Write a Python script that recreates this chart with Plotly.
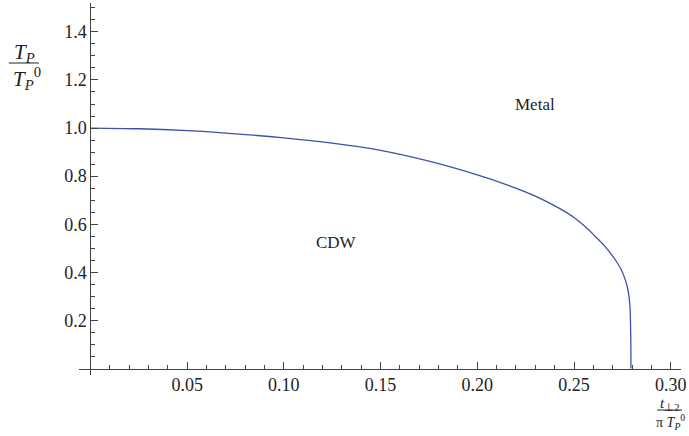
import plotly.graph_objects as go

# Phase boundary between the CDW state and the metal
t_ratio = [0.000, 0.025, 0.050, 0.075, 0.100, 0.125, 0.150, 0.175, 0.200, 0.216,
           0.230, 0.242, 0.250, 0.2574, 0.2610, 0.2655, 0.2694, 0.2720, 0.2745,
           0.2762, 0.2776, 0.2784, 0.2789, 0.2792, 0.2794, 0.2794]
tp_ratio = [1.000, 0.997, 0.989, 0.976, 0.959, 0.937, 0.907, 0.862, 0.805, 0.762,
            0.717, 0.668, 0.628, 0.578, 0.549, 0.512, 0.474, 0.444, 0.410,
            0.376, 0.338, 0.300, 0.262, 0.190, 0.080, 0.000]

x_ticks = [0.05, 0.10, 0.15, 0.20, 0.25, 0.30]
x_tick_text = ["0.05", "0.10", "0.15", "0.20", "0.25", "0.30"]
y_ticks = [0.2, 0.4, 0.6, 0.8, 1.0, 1.2, 1.4]
y_tick_text = ["0.2", "0.4", "0.6", "0.8", "1.0", "1.2", "1.4"]
x_minor = [round(0.01 * i, 2) for i in range(1, 31) if i % 5 != 0]
y_minor = [round(0.05 * i, 2) for i in range(1, 31) if i % 4 != 0]

region_labels = ["CDW", "Metal"]
region_x = [0.127, 0.230]
region_y = [0.525, 1.10]

W, H = 689, 436
L, R, T, B = 79.3, 6, 3, 61
X_RANGE = [-0.0059, 0.3053]
Y_RANGE = [-0.027, 1.52]

def px(x):
    return (x - L) / (W - L - R)

def py(y):
    return (H - B - y) / (H - T - B)

FONT = "Liberation Serif, Times New Roman, serif"
AX = "#444444"
TXT = "#222222"

fig = go.Figure()
fig.add_trace(go.Scatter(
    x=t_ratio, y=tp_ratio, mode="lines",
    line=dict(color="rgb(62,80,168)", width=1.3, shape="spline", smoothing=0.8),
    hoverinfo="skip", showlegend=False,
))

for name, xv, yv in zip(region_labels, region_x, region_y):
    fig.add_annotation(x=xv, y=yv, xref="x", yref="y", text=name, showarrow=False,
                       xanchor="center", yanchor="middle",
                       font=dict(family=FONT, size=17, color=TXT))

def label(x, y, text, size):
    fig.add_annotation(x=px(x), y=py(y), xref="paper", yref="paper", text=text,
                       showarrow=False, xanchor="center", yanchor="middle",
                       borderpad=0, font=dict(family=FONT, size=size, color=TXT))

def bar(x0, x1, y):
    fig.add_shape(type="line", xref="paper", yref="paper",
                  x0=px(x0), x1=px(x1), y0=py(y), y1=py(y),
                  line=dict(color=TXT, width=1))

# Axis titles drawn as stacked fractions
label(25, 53, "<i>T<sub>P</sub></i>", 21)
label(27, 78, "<i>T<sub>P</sub></i><sup>0</sup>", 21)
bar(9, 39, 63)

label(671, 404, "<i>t</i><sub>⊥2</sub>", 15)
label(672, 422, "π <i>T<sub>P</sub></i><sup>0</sup>", 14)
bar(659, 684, 410)

x_pos = (0 - Y_RANGE[0]) / (Y_RANGE[1] - Y_RANGE[0])
y_pos = (0 - X_RANGE[0]) / (X_RANGE[1] - X_RANGE[0])

fig.update_layout(
    width=W, height=H,
    margin=dict(l=L, r=R, t=T, b=B, pad=0),
    paper_bgcolor="white", plot_bgcolor="white",
    xaxis=dict(
        range=X_RANGE, anchor="free", position=x_pos,
        showgrid=False, zeroline=False, showline=True, linecolor=AX, linewidth=1,
        tickmode="array", tickvals=x_ticks, ticktext=x_tick_text,
        ticks="inside", ticklen=7, tickcolor=AX, tickwidth=1,
        tickfont=dict(family=FONT, size=18, color=TXT),
        minor=dict(tickmode="array", tickvals=x_minor, ticks="inside",
                   ticklen=4, tickcolor=AX, tickwidth=1, showgrid=False),
    ),
    yaxis=dict(
        range=Y_RANGE, anchor="free", position=y_pos,
        showgrid=False, zeroline=False, showline=True, linecolor=AX, linewidth=1,
        tickmode="array", tickvals=y_ticks, ticktext=y_tick_text,
        ticks="inside", ticklen=7, tickcolor=AX, tickwidth=1,
        tickfont=dict(family=FONT, size=18, color=TXT),
        minor=dict(tickmode="array", tickvals=y_minor, ticks="inside",
                   ticklen=4, tickcolor=AX, tickwidth=1, showgrid=False),
    ),
)

fig.write_html("out.html")
